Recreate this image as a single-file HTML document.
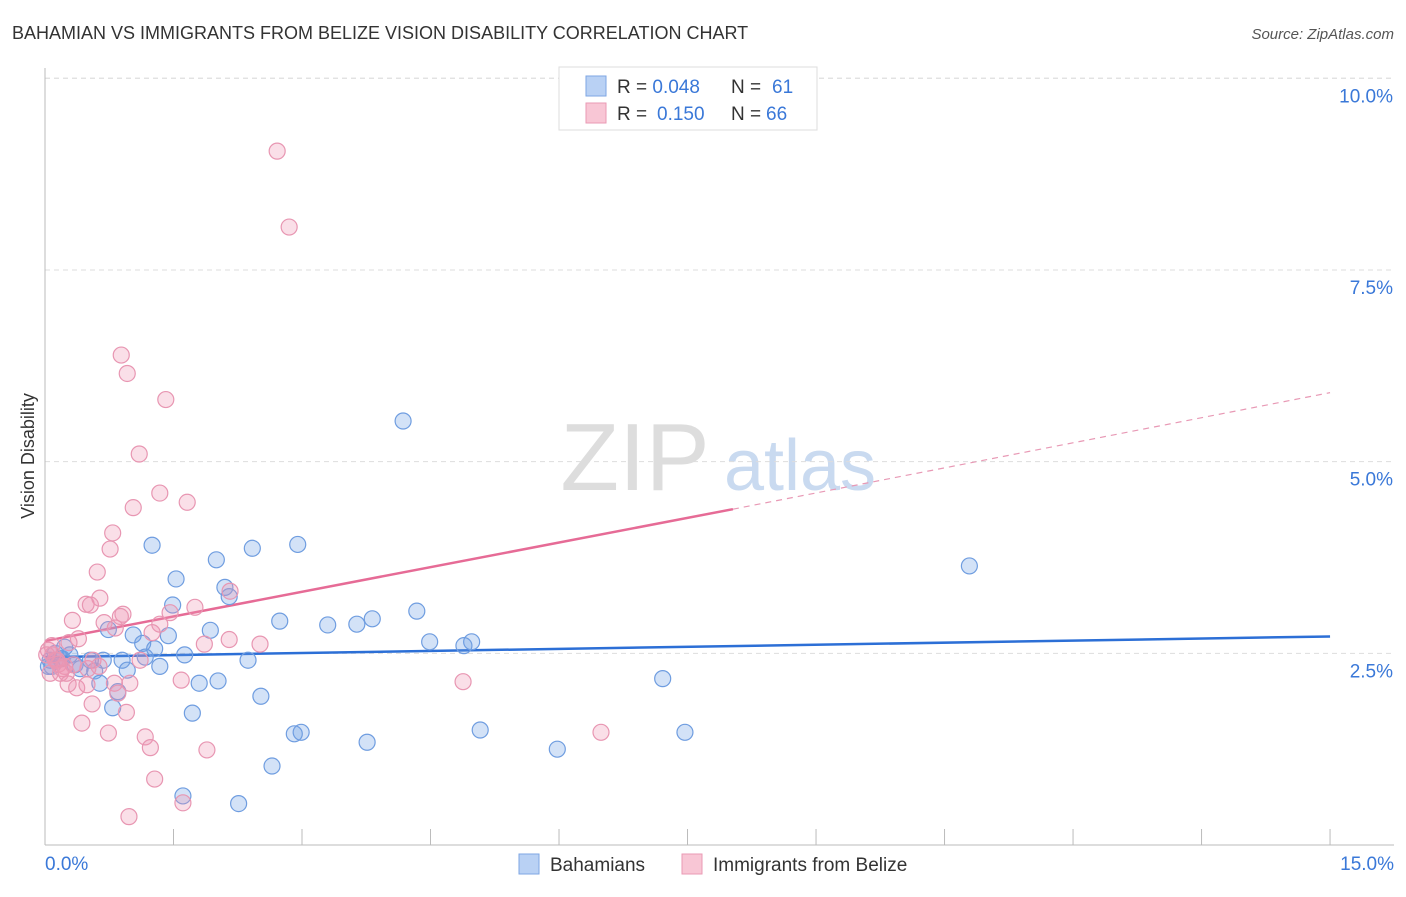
<!DOCTYPE html>
<html><head><meta charset="utf-8"><style>
body{margin:0;background:#fff;font-family:"Liberation Sans",sans-serif;}
svg text{font-family:"Liberation Sans",sans-serif;}
</style></head><body>
<svg id="chart" width="1406" height="892">
<text x="12" y="39" font-size="18" fill="#333">BAHAMIAN VS IMMIGRANTS FROM BELIZE VISION DISABILITY CORRELATION CHART</text>
<text x="1394" y="39" font-size="15" fill="#555" font-style="italic" text-anchor="end">Source: ZipAtlas.com</text>
<text x="34" y="456" font-size="18" fill="#333" transform="rotate(-90 34 456)" text-anchor="middle">Vision Disability</text>
<g><text x="635" y="490" font-size="96" fill="#ddd" font-family="Liberation Serif" text-anchor="middle">ZIP</text><text x="800" y="490" font-size="72" fill="#c9daf0" text-anchor="middle">atlas</text></g>
<g id="grid"></g><g id="axes"></g><g id="lines"></g><g id="pts"></g>
<g>
<rect x="559" y="67" width="258" height="63" fill="#fff" stroke="#ddd"/>
<rect x="586" y="76" width="20" height="20" fill="#b9d1f4" stroke="#7ea6e3"/>
<rect x="586" y="103" width="20" height="20" fill="#f8c6d5" stroke="#ea9ab4"/>
<text x="617" y="93" font-size="19" fill="#333">R = <tspan fill="#3a78d8">0.048</tspan><tspan x="731">N = </tspan><tspan x="772" fill="#3a78d8">61</tspan></text>
<text x="617" y="120" font-size="19" fill="#333">R = <tspan x="657" fill="#3a78d8">0.150</tspan><tspan x="731">N = </tspan><tspan x="766" fill="#3a78d8">66</tspan></text>
</g>
<g>
<rect x="519" y="854" width="20" height="20" fill="#b9d1f4" stroke="#7ea6e3"/><text x="550" y="871" font-size="19" fill="#333">Bahamians</text>
<rect x="682" y="854" width="20" height="20" fill="#f8c6d5" stroke="#ea9ab4"/><text x="713" y="871" font-size="19" fill="#333">Immigrants from Belize</text>
</g>
</svg>
<script>
const xTicks=[0,1.5,3,4.5,6,7.5,9,10.5,12,13.5,15];
const yTicks=[2.5,5,7.5,10];
const yTickLabels=["2.5%","5.0%","7.5%","10.0%"];
const blueTrend=[2.45,2.72];
const pinkTrend=[2.66,4.38,5.9];
const blueX=[4.18,10.79,1.25,2.42,2.95,2.0,1.53,2.1,2.15,1.49,4.34,2.74,3.82,3.64,3.3,1.93,0.74,1.44,1.03,4.49,4.98,4.89,1.14,1.28,1.63,0.68,0.9,2.37,1.17,0.53,0.18,0.29,0.12,0.06,0.08,0.35,0.58,0.96,1.34,0.41,0.64,1.8,2.02,7.21,0.85,2.52,0.79,1.72,5.08,7.47,2.99,2.91,3.76,5.98,2.65,1.61,2.26,0.2,0.04,0.23];
const blueY=[5.53,3.64,3.91,3.87,3.92,3.72,3.47,3.36,3.24,3.13,3.05,2.92,2.95,2.88,2.87,2.8,2.81,2.73,2.74,2.65,2.65,2.6,2.63,2.56,2.48,2.41,2.41,2.41,2.45,2.41,2.43,2.48,2.5,2.41,2.33,2.35,2.27,2.28,2.33,2.3,2.11,2.11,2.14,2.17,2.0,1.94,1.79,1.72,1.5,1.47,1.47,1.45,1.34,1.25,1.03,0.64,0.54,2.43,2.33,2.58];
const pinkX=[2.71,2.85,0.89,0.96,1.41,1.1,1.34,1.66,1.03,0.79,0.76,0.61,0.64,0.48,0.53,1.75,1.46,2.16,0.32,0.91,0.88,0.69,1.34,1.25,0.82,0.39,0.28,1.86,2.15,2.51,0.04,0.09,0.14,0.16,0.23,0.06,0.18,0.5,0.27,0.37,0.49,0.81,1.59,0.99,4.88,0.85,0.95,0.55,0.43,0.74,1.17,1.23,1.89,6.49,1.28,1.61,0.98,0.12,0.2,0.02,0.08,0.33,0.56,0.63,1.11,0.25];
const pinkY=[9.05,8.06,6.39,6.15,5.81,5.1,4.59,4.47,4.4,4.07,3.86,3.56,3.22,3.14,3.13,3.1,3.03,3.31,2.93,3.01,2.98,2.9,2.88,2.77,2.83,2.69,2.64,2.62,2.68,2.62,2.54,2.48,2.41,2.36,2.33,2.24,2.24,2.3,2.1,2.05,2.09,2.11,2.15,2.11,2.13,1.98,1.73,1.84,1.59,1.46,1.41,1.27,1.24,1.47,0.86,0.55,0.37,2.41,2.3,2.48,2.6,2.35,2.41,2.33,2.41,2.24];
const sx=v=>45+v*85.67, sy=v=>845-v*76.67;
const NS="http://www.w3.org/2000/svg";
function mk(p,t,a){const e=document.createElementNS(NS,t);for(const k in a)e.setAttribute(k,a[k]);document.getElementById(p).appendChild(e);return e;}
yTicks.forEach((v,i)=>{
 const l=mk('grid','line',{x1:45,x2:1394,y1:sy(v),y2:sy(v),stroke:'#ddd','stroke-dasharray':'5,4'});
 
 
 const t=mk('grid','text',{x:1393,y:sy(v)+24,'font-size':19,fill:'#3a78d8','text-anchor':'end'});t.textContent=yTickLabels[i];
 
 
});
const tg=mk('grid','line',{x1:45,x2:1394,y1:sy(10),y2:sy(10),stroke:'#ddd','stroke-dasharray':'5,4'});
mk('axes','line',{x1:45,x2:45,y1:68,y2:845,stroke:'#bbb'});
mk('axes','line',{x1:45,x2:1394,y1:845,y2:845,stroke:'#bbb'});
xTicks.forEach(v=>{const l=mk('axes','line',{x1:sx(v),x2:sx(v),y1:829,y2:845,stroke:'#bbb'});
 
 });
let t0=mk('axes','text',{x:45,y:870,'font-size':19,fill:'#3a78d8'});t0.textContent="0.0%";


let t1=mk('axes','text',{x:1394,y:870,'font-size':19,fill:'#3a78d8','text-anchor':'end'});t1.textContent="15.0%";


function dots(xs,ys,fill,stroke,name){xs.forEach((x,i)=>{const c=mk('pts','circle',{cx:sx(x),cy:sy(ys[i]),r:8,fill:fill,stroke:stroke,'stroke-width':1.2});
 
 });}
dots(blueX,blueY,'rgba(110,160,230,0.3)','#6f9de0','point-bahamian');
dots(pinkX,pinkY,'rgba(240,150,180,0.3)','#e896b2','point-belize');
const bl=mk('lines','line',{x1:sx(0),y1:sy(blueTrend[0]),x2:sx(15),y2:sy(blueTrend[1]),stroke:'#2c6fd6','stroke-width':2.5});


const pl=mk('lines','line',{x1:sx(0),y1:sy(pinkTrend[0]),x2:sx(8.03),y2:sy(pinkTrend[1]),stroke:'#e66b96','stroke-width':2.5});


const pd=mk('lines','line',{x1:sx(8.03),y1:sy(pinkTrend[1]),x2:sx(15),y2:sy(pinkTrend[2]),stroke:'#e899b5','stroke-width':1.2,'stroke-dasharray':'6,5'});


</script>
</body></html>
